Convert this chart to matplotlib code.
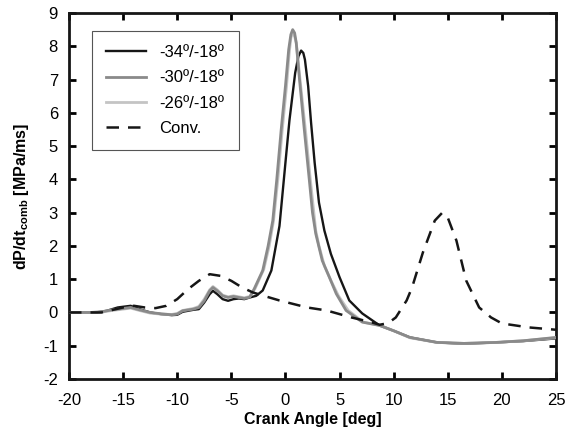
import matplotlib
matplotlib.use("Agg")
import matplotlib.pyplot as plt
import numpy as np

plt.rcParams['font.family'] = ['Liberation Sans', 'DejaVu Sans']
plt.rcParams['mathtext.fontset'] = 'custom'
plt.rcParams['mathtext.rm'] = 'Liberation Sans:bold'
plt.rcParams['mathtext.bf'] = 'Liberation Sans:bold'
plt.rcParams['mathtext.it'] = 'Liberation Sans:bold'
plt.rcParams['axes.unicode_minus'] = False

# ---- data ----
ca_34 = [-20, -17.5, -16.5, -15.5, -14.3, -13.5, -12.5, -11.5, -10.5, -10, -9.5, -8.5, -8, -7.5, -7, -6.7,
         -6.3, -5.8, -5.3, -4.8, -4.3, -3.8, -3.3, -2.7, -2.1, -1.3, -0.55, 0.0, 0.37, 0.9, 1.2, 1.45, 1.65, 1.8,
         2.1, 2.37, 2.7, 3.1, 3.6, 4.2, 5.0, 5.9, 7.1, 8.7, 10, 11.5, 14, 16.5, 19.5, 22, 25]
dp_34 = [0, 0, 0.05, 0.15, 0.2, 0.1, 0.0, -0.05, -0.08, -0.07, 0.02, 0.08, 0.1, 0.3, 0.55, 0.65,
         0.55, 0.4, 0.35, 0.4, 0.42, 0.4, 0.45, 0.5, 0.66, 1.26, 2.6, 4.5, 5.77, 7.2, 7.7, 7.87, 7.8, 7.6,
         6.8, 5.7, 4.5, 3.3, 2.46, 1.76, 1.06, 0.36, -0.03, -0.39, -0.55, -0.75, -0.9, -0.94, -0.9, -0.86, -0.78]

ca_30 = [-20, -18, -17, -16, -15, -14.3, -13.5, -12.5, -11.5, -10.5, -10, -9.5, -8.5, -8, -7.5, -7, -6.7,
         -6.3, -5.8, -5.3, -4.8, -4.3, -3.8, -3.3, -2.9, -2.1, -1.6, -1.17, -0.8, -0.4, 0.0, 0.3, 0.5, 0.67,
         0.85, 1.0, 1.3, 1.75, 2.2, 2.5, 2.8, 3.4, 4.06, 4.7, 5.6, 7.1, 8.7, 10, 11.5, 14, 16.5, 19.5, 22, 25]
dp_30 = [0, 0, 0.02, 0.08, 0.12, 0.15, 0.08, 0.0, -0.04, -0.07, -0.05, 0.05, 0.1, 0.15, 0.35, 0.65, 0.75,
         0.65, 0.5, 0.45, 0.48, 0.45, 0.42, 0.46, 0.7, 1.26, 2.0, 2.76, 4.0, 5.47, 6.8, 7.9, 8.35, 8.5,
         8.4, 8.1, 7.0, 5.47, 4.0, 3.0, 2.37, 1.56, 1.06, 0.56, 0.06, -0.29, -0.39, -0.55, -0.75, -0.9, -0.93, -0.9, -0.85, -0.75]

ca_26 = [-20, -18, -17, -16, -15, -14.3, -13.5, -12.5, -11.5, -10.5, -10, -9.5, -8.5, -8, -7.5, -7, -6.7,
         -6.3, -5.8, -5.3, -4.8, -4.3, -3.8, -3.3, -2.8, -2.0, -1.5, -1.1, -0.7, -0.3, 0.1, 0.35, 0.5, 0.65,
         0.85, 1.0, 1.35, 1.85, 2.3, 2.8, 3.1, 3.6, 4.2, 4.9, 5.8, 7.2, 8.7, 10, 11.5, 14, 16.5, 19.5, 22, 25]
dp_26 = [0, 0, 0.01, 0.06, 0.1, 0.13, 0.06, -0.02, -0.05, -0.06, -0.03, 0.06, 0.12, 0.18, 0.4, 0.68, 0.78,
         0.68, 0.52, 0.47, 0.5, 0.47, 0.44, 0.48, 0.72, 1.3, 2.0, 2.76, 4.0, 5.47, 6.8, 7.8, 8.25, 8.4,
         8.3, 8.1, 7.0, 5.47, 4.0, 2.46, 2.0, 1.4, 0.96, 0.5, 0.06, -0.29, -0.39, -0.55, -0.76, -0.9, -0.93, -0.9, -0.85, -0.76]

ca_conv = [-20, -17, -15, -14, -13, -12, -11, -10, -9, -8, -7, -6, -5, -4, -3, -2, -0.55, 2, 3.8,
           6.1, 8, 8.7, 9.5, 10.2, 11.2, 11.7, 12.7, 13.8, 14.5, 15.0, 15.8, 16.7, 17.9, 19, 20, 22.5, 25]
dp_conv = [0, 0.0, 0.15, 0.2, 0.15, 0.13, 0.2, 0.4, 0.7, 0.95, 1.15, 1.1, 0.95, 0.75, 0.6, 0.5, 0.36, 0.15, 0.06,
           -0.15, -0.3, -0.37, -0.32, -0.15, 0.36, 0.75, 1.8, 2.76, 3.0, 2.85, 2.16, 0.96, 0.15, -0.15, -0.33, -0.45, -0.52]

labels = ['-34º/-18º', '-30º/-18º', '-26º/-18º', 'Conv.']
xticks = [-20, -15, -10, -5, 0, 5, 10, 15, 20, 25]
yticks = [-2, -1, 0, 1, 2, 3, 4, 5, 6, 7, 8, 9]

fig = plt.figure(figsize=(5.66, 4.33), dpi=100)
ax = fig.add_axes([0.1219, 0.1247, 0.8604, 0.8453])

ax.plot(ca_26, dp_26, color='#c4c4c4', lw=2.0, label=labels[2], zorder=3, solid_joinstyle='round')
ax.plot(ca_30, dp_30, color='#8a8a8a', lw=2.0, label=labels[1], zorder=4, solid_joinstyle='round')
ax.plot(ca_34, dp_34, color='#161616', lw=1.7, label=labels[0], zorder=2, solid_joinstyle='round')
ax.plot(ca_conv, dp_conv, color='#161616', lw=1.8, ls=(0, (5, 3.6)), label=labels[3], zorder=5)

ax.set_xlim(-20, 25)
ax.set_ylim(-2, 9)
ax.set_xticks(xticks)
ax.set_yticks(yticks)
ax.tick_params(direction='in', length=5, width=2, labelsize=12, top=True, right=True)
ax.tick_params(axis='x', pad=10)
ax.tick_params(axis='y', pad=8)
for s in ax.spines.values():
    s.set_linewidth(2)
    s.set_color('#161616')

ax.set_xlabel('Crank Angle [deg]', fontsize=11.5, fontweight='bold', labelpad=3)
ax.set_ylabel(r'dP/dt$_{\mathbf{comb}}$ [MPa/ms]', fontsize=11.5, fontweight='bold', labelpad=9)

h, l = ax.get_legend_handles_labels()
order = [2, 1, 0, 3]
leg = ax.legend([h[i] for i in order], [l[i] for i in order], loc='upper left',
                bbox_to_anchor=(0.047, 0.951), borderaxespad=0, fontsize=12,
                handlelength=2.4, labelspacing=0.62, fancybox=False, framealpha=1,
                edgecolor='#555555', handletextpad=0.8, borderpad=0.85)
leg.get_frame().set_linewidth(0.8)

fig.savefig('out.png', dpi=100)
